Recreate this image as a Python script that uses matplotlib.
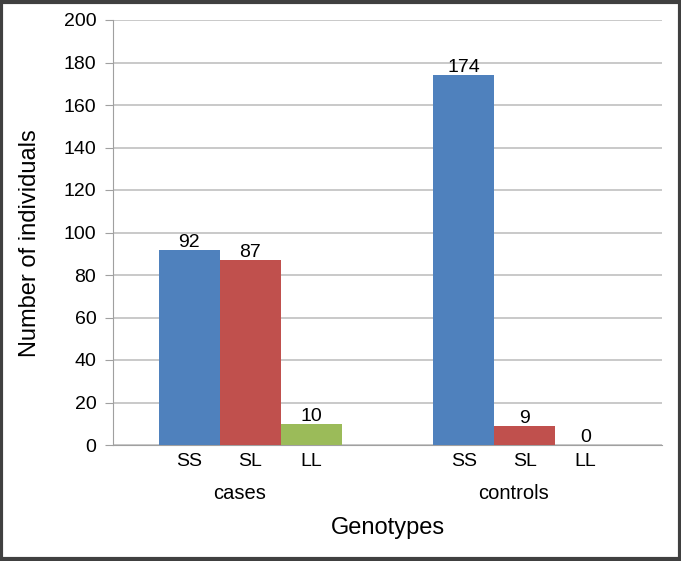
import numpy as np
import matplotlib.pyplot as plt
from matplotlib.patches import Rectangle

plt.rcParams['font.family'] = ['Liberation Sans', 'DejaVu Sans']

groups = ['cases', 'controls']
genotypes = ['SS', 'SL', 'LL']
ss = [92, 174]
sl = [87, 9]
ll = [10, 0]
colors = ['#4f81bd', '#c0504d', '#9bbb59']

fig = plt.figure(figsize=(6.81, 5.61), dpi=100)
ax = fig.add_axes([113 / 681, 116 / 561, 549 / 681, 425 / 561])

x = np.arange(len(groups))
w = 0.222
for i, vals in enumerate([ss, sl, ll]):
    pos = x + (i - 1) * w
    ax.bar(pos, vals, w, color=colors[i], zorder=3)
    for p, v in zip(pos, vals):
        ax.text(p, v - 0.5, str(v), ha='center', va='bottom', fontsize=14, zorder=4)

ax.set_xlim(-0.5, 1.5)
ax.set_ylim(0, 200)
ax.set_yticks(range(0, 201, 20))
ax.tick_params(axis='y', labelsize=14, length=6, color='#a0a0a0', pad=6)
ax.grid(axis='y', color='#c0c0c0', linewidth=1.2, zorder=0)
for s in ['top', 'right']:
    ax.spines[s].set_visible(False)
ax.spines['left'].set_color('#a0a0a0')
ax.spines['bottom'].set_color('#a0a0a0')

# genotype labels under each bar, group labels below
ax.set_xticks([])
for g in x:
    for i, lab in enumerate(genotypes):
        ax.text(g + (i - 1) * w, -4.0, lab, ha='center', va='top', fontsize=14)
    ax.text(g - 0.04, -18.5, groups[g], ha='center', va='top', fontsize=14.5)

ax.set_ylabel('Number of individuals', fontsize=17)
ax.yaxis.set_label_coords(-0.131, 0.475)
fig.text((113 + 662) / 2 / 681, 1 - 528 / 561, 'Genotypes', ha='center', va='center', fontsize=17)

fig.patches.append(Rectangle((0.002, 0.003), 0.996, 0.994, transform=fig.transFigure,
                             fill=False, edgecolor='#404040', linewidth=3))

fig.savefig('out.png', dpi=100)
